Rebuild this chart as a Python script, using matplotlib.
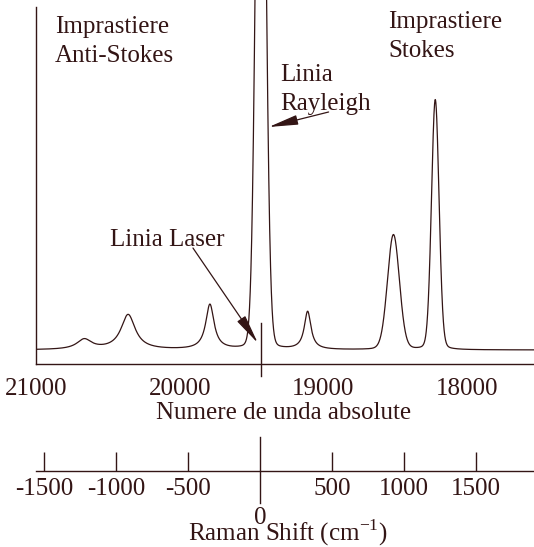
import numpy as np
import matplotlib.pyplot as plt

plt.rcParams['font.family'] = ['Liberation Serif', 'DejaVu Serif']
plt.rcParams['mathtext.fontset'] = 'custom'
plt.rcParams['mathtext.rm'] = 'Liberation Serif'
plt.rcParams['font.size'] = 18

ink = '#331515'

# laser line (absolute wavenumber, cm-1)
laser_wn = 19436

# peaks of the spectrum, position as Raman shift (cm-1)
peak_shift = [-1228, -923, -354, 0, 326, 923, 1214]
peak_height = [10, 35, 45, 800, 38, 115, 250]
peak_hwhm = [62, 60, 35, 37, 28, 49, 31]
peak_lorentz = [1.0, 1.0, 1.0, 0.05, 1.0, 0.1, 0.1]

wn_ticks = [21000, 20000, 19000, 18000]
shift_ticks = [-1500, -1000, -500, 500, 1000, 1500]


def pseudo_voigt(x, x0, h, w, eta):
    lor = w**2 / ((x - x0)**2 + w**2)
    gau = np.exp(-np.log(2) * ((x - x0) / w)**2)
    return h * (eta * lor + (1 - eta) * gau)


x_min, x_max = -1554, 1901
x = np.linspace(x_min, x_max, 5000)
y = np.zeros_like(x)
for p, h, w, e in zip(peak_shift, peak_height, peak_hwhm, peak_lorentz):
    y += pseudo_voigt(x, p, h, w, e)

W, H = 534, 547
fig = plt.figure(figsize=(W / 100, H / 100), dpi=100)


def box(l, t, r, b):
    return [l / W, 1 - b / H, (r - l) / W, (b - t) / H]


def fx(px):
    return px / W


def fy(py):
    return 1 - py / H


# spectrum
ax1 = fig.add_axes(box(36, 0, 534, 364))
ax1.plot(x, y, color=ink, lw=0.9)
ax1.set_xlim(x_min, x_max)
ax1.set_ylim(-14, 350)
ax1.spines['top'].set_visible(False)
ax1.spines['right'].set_visible(False)
ax1.spines['left'].set_bounds(-14, 343)
for s in ['left', 'bottom']:
    ax1.spines[s].set_color(ink)
    ax1.spines[s].set_linewidth(1.0)
ax1.set_yticks([])
ax1.set_xticks([laser_wn - wn for wn in wn_ticks])
ax1.set_xticklabels([str(wn) for wn in wn_ticks])
ax1.tick_params(axis='x', length=0, pad=10, colors=ink, labelsize=18)
ax1.axvline(0, ymin=-12 / 364, ymax=41 / 364, color=ink, lw=1.0, clip_on=False)

# Raman shift axis
ax2 = fig.add_axes(box(36, 437, 534, 471))
ax2.set_xlim(x_min, x_max)
ax2.set_ylim(0, 1)
for s in ['top', 'right', 'left']:
    ax2.spines[s].set_visible(False)
ax2.spines['bottom'].set_color(ink)
ax2.spines['bottom'].set_linewidth(1.0)
ax2.patch.set_visible(False)
ax2.set_yticks([])
ax2.set_xticks(shift_ticks)
ax2.set_xticklabels([str(t) for t in shift_ticks])
ax2.tick_params(axis='x', direction='in', length=13.5, width=1.0, pad=5,
                colors=ink, labelsize=18)
ax2.axvline(0, ymin=-32 / 34, ymax=1, color=ink, lw=1.0, clip_on=False)

# texts
fig.text(fx(55), fy(16), 'Imprastiere\nAnti-Stokes', ha='left', va='top',
         color=ink, fontsize=18, linespacing=1.4)
fig.text(fx(388), fy(11), 'Imprastiere\nStokes', ha='left', va='top',
         color=ink, fontsize=18, linespacing=1.4)
fig.text(fx(280), fy(64), 'Linia\nRayleigh', ha='left', va='top',
         color=ink, fontsize=18, linespacing=1.4)
fig.text(fx(110), fy(246), 'Linia Laser', ha='left', va='baseline',
         color=ink, fontsize=18)
fig.text(fx(284), fy(419), 'Numere de unda absolute', ha='center',
         va='baseline', color=ink, fontsize=18)
fig.text(fx(260), fy(524), '0', ha='center', va='baseline', color=ink,
         fontsize=18)
fig.text(fx(288), fy(541), 'Raman Shift (cm$^{-1}$)', ha='center',
         va='baseline', color=ink, fontsize=18)


def px_to_data(px, py):
    return ((px - 260) / 0.1441, 350 - py)


arrow = dict(arrowstyle='-|>,head_length=1.8,head_width=0.3', color=ink,
             lw=0.9, shrinkA=0, shrinkB=0, mutation_scale=10)
ax1.annotate('', xy=px_to_data(268, 127), xytext=px_to_data(328, 112),
             arrowprops=arrow, annotation_clip=False)
ax1.annotate('', xy=px_to_data(257, 343), xytext=px_to_data(192, 248),
             arrowprops=arrow, annotation_clip=False)

fig.savefig('out.png', dpi=100)
